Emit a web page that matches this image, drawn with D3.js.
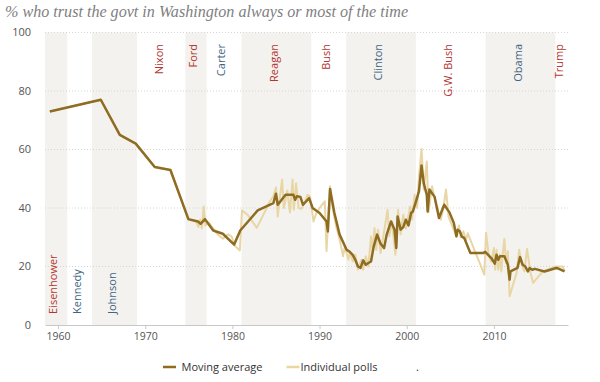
<!DOCTYPE html>
<html>
<head>
<meta charset="utf-8">
<script src="https://cdn.jsdelivr.net/npm/d3@7"></script>
<style>
  html, body { margin: 0; padding: 0; background: #fff; }
  svg { display: block; }
</style>
</head>
<body>
<svg id="chart" width="600" height="382"></svg>
<script>
// ---------- DATA ----------
const titleText = "% who trust the govt in Washington always or most of the time";

const presidents = [
  { name: "Eisenhower", start: 1953.05, end: 1961.05, party: "R" },
  { name: "Kennedy",    start: 1961.05, end: 1963.9,  party: "D" },
  { name: "Johnson",    start: 1963.9,  end: 1969.05, party: "D" },
  { name: "Nixon",      start: 1969.05, end: 1974.6,  party: "R" },
  { name: "Ford",       start: 1974.6,  end: 1977.05, party: "R" },
  { name: "Carter",     start: 1977.05, end: 1981.05, party: "D" },
  { name: "Reagan",     start: 1981.05, end: 1989.05, party: "R" },
  { name: "Bush",       start: 1989.05, end: 1993.05, party: "R" },
  { name: "Clinton",    start: 1993.05, end: 2001.05, party: "D" },
  { name: "G.W. Bush",  start: 2001.05, end: 2009.05, party: "R" },
  { name: "Obama",      start: 2009.05, end: 2017.05, party: "D" },
  { name: "Trump",      start: 2017.05, end: 2021.05, party: "R" }
];

const yTicks = [0, 20, 40, 60, 80, 100];
const xTicks = [1960, 1970, 1980, 1990, 2000, 2010];
const legendLabels = ["Moving average", "Individual polls"];

// Moving average: [year, percent]
const movingYears = [
  1959.05, 1964.9, 1967.08, 1968.91, 1971.09, 1972.89, 1974.95, 1976.05, 1976.35, 1976.85,
  1977.8, 1978.9, 1980.2, 1980.9, 1981.8, 1982.9, 1984.7, 1985.0, 1985.2, 1986.1,
  1987.0, 1987.2, 1987.4, 1987.8, 1988.1, 1988.8, 1989.2, 1990.0, 1990.8, 1990.95,
  1991.2, 1991.7, 1992.3, 1993.1, 1993.4, 1993.8, 1994.1, 1994.4, 1994.7, 1995.0,
  1995.3, 1995.6, 1995.9, 1996.2, 1996.6, 1997.0, 1997.4, 1997.7, 1998.2, 1998.6,
  1998.8, 1998.95, 1999.3, 1999.6, 1999.9, 2000.2, 2000.5, 2000.7, 2001.0, 2001.4,
  2001.7, 2001.95, 2002.3, 2002.4, 2002.6, 2003.2, 2003.7, 2004.3, 2004.9, 2005.4,
  2005.7, 2005.85, 2006.1, 2006.3, 2006.6, 2007.3, 2008.75, 2009.0, 2009.7, 2010.1,
  2010.3, 2010.5, 2010.7, 2011.2, 2011.6, 2011.8, 2011.9, 2012.3, 2012.7, 2013.0,
  2013.3, 2013.6, 2013.9, 2014.1, 2014.4, 2014.7, 2015.8, 2017.15, 2017.4, 2018.1
];
const movingValues = [
  73, 77, 65, 62, 54, 53, 36.2, 35.4, 34.6, 36.2,
  32.3, 31.2, 27.5, 32.3, 35.4, 39.2, 41.7, 44.9, 41.1, 44.5,
  44.5, 42.8, 44, 43.8, 41.1, 43.4, 40, 38.3, 35.4, 32,
  46.5, 38.3, 30.9, 25.7, 25.2, 24, 22.3, 20, 19.5, 22.1,
  20.6, 21.2, 21.7, 26.7, 30.9, 27.8, 26.3, 30.9, 35.4, 32.6,
  26.3, 37.1, 32.6, 33.5, 36, 34, 38.3, 38.8, 41.7, 45.7,
  54.5, 48.5, 44.5, 38.8, 46.3, 43.8, 36.6, 41.1, 38.5, 34.9,
  30.3, 32.6, 32, 30.3, 29.7, 24.6, 24.6, 25, 22.9, 21,
  24, 22.3, 23.5, 23.5, 20.6, 15.5, 18.3, 18.9, 19.5, 23.2,
  20.6, 20, 18.3, 19.5, 18.9, 19.2, 18.3, 19.5, 19.3, 18.3
];

// Individual polls: [year, percent]
const pollYears = [
  1959.05, 1964.9, 1967.08, 1968.91, 1971.09, 1972.89, 1974.95, 1975.8, 1976.1, 1976.3,
  1976.5, 1976.7, 1976.9, 1977.3, 1977.8, 1978.3, 1978.9, 1979.5, 1979.9, 1980.3,
  1980.85, 1981.1, 1981.8, 1982.8, 1983.6, 1984.3, 1984.7, 1985.0, 1985.2, 1985.5,
  1985.7, 1985.9, 1986.3, 1986.6, 1986.9, 1987.05, 1987.3, 1987.6, 1987.9, 1988.3,
  1988.6, 1988.9, 1989.3, 1989.6, 1990.0, 1990.6, 1990.8, 1991.2, 1991.5, 1991.9,
  1992.3, 1992.7, 1992.9, 1993.3, 1993.5, 1993.8, 1994.1, 1994.4, 1994.8, 1995.0,
  1995.3, 1995.6, 1995.9, 1996.1, 1996.3, 1996.5, 1996.7, 1997.0, 1997.5, 1997.8,
  1998.0, 1998.3, 1998.7, 1999.0, 1999.3, 1999.6, 1999.9, 2000.4, 2000.6, 2000.9,
  2001.2, 2001.4, 2001.7, 2001.95, 2002.3, 2002.5, 2002.9, 2003.3, 2003.9, 2004.2,
  2004.5, 2004.8, 2005.2, 2005.7, 2006.0, 2006.2, 2006.5, 2006.8, 2007.0, 2007.6,
  2008.9, 2009.1, 2009.4, 2009.7, 2010.0, 2010.15, 2010.3, 2010.5, 2010.65, 2010.85,
  2011.0, 2011.2, 2011.4, 2011.6, 2011.8, 2012.2, 2012.6, 2012.9, 2013.2, 2013.5,
  2013.8, 2014.2, 2014.5, 2015.6, 2017.1, 2017.9, 2018.1
];
const pollValues = [
  73, 77, 65, 62, 54, 53, 36, 35.5, 33.5, 36,
  33, 40.5, 34, 35, 33, 31, 29.5, 31, 30.3, 27,
  25.5, 39.2, 37.5, 33.2, 38, 42.3, 44, 47, 37.1, 45,
  49.7, 40, 46, 38.5, 49.7, 39.4, 48.5, 40, 39.7, 42,
  44.5, 44, 35.4, 38, 40, 42.3, 25.2, 47.4, 40, 33.7,
  29.2, 23.5, 26.9, 22.3, 25, 21.7, 24, 18.9, 22.3, 18.9,
  23.5, 20, 30.3, 25.2, 33.2, 25.7, 32.6, 24.6, 33.7, 39.4,
  30.3, 35.4, 24, 39.4, 31, 37.7, 33, 40.5, 36, 44.5,
  40, 50.8, 60.2, 46.3, 55.9, 38.5, 47.4, 42, 36, 40,
  46.3, 37, 34, 30.3, 34, 30, 32, 29, 31.4, 26.9,
  17.2, 31.5, 24, 21.7, 26.3, 18.9, 25.7, 18.9, 24, 18.3,
  24, 29.4, 21.2, 25.2, 9.8, 13.8, 17.8, 25.7, 20.6, 18.3,
  26, 17.8, 14.4, 18.3, 20, 20, 18.3
];

// ---------- CHART ----------
const svg = d3.select("#chart");
const font = "'Open Sans', 'Noto Sans', sans-serif";
const colors = {
  R: "#b5352f", D: "#3f6583", band: "#f3f2ee",
  moving: "#8e6c22", polls: "#e9d6a5", grid: "#d6d6d6",
  axis: "#c8c8c8", text: "#555", title: "#808080"
};

const x = d3.scaleLinear().domain([1958.5, 2018.5]).range([45, 568]);
const y = d3.scaleLinear().domain([0, 100]).range([325, 32.5]);
const [x0, x1] = x.domain();

// Title
const title = svg.append("text")
  .attr("x", 5).attr("y", 17)
  .attr("fill", colors.title)
  .style("font-family", "'Liberation Serif', 'DejaVu Serif', serif")
  .style("font-style", "italic")
  .style("font-size", "16px")
  .text(titleText);
const tl = title.node().getComputedTextLength();
title.style("font-size", (16 * 403 / tl).toFixed(2) + "px");

// Bands
const bands = presidents.map((p, i) => ({
  ...p, i,
  s: Math.max(p.start, x0), e: Math.min(p.end, x1)
}));
svg.append("g").selectAll("rect")
  .data(bands.filter(d => d.i % 2 === 0))
  .join("rect")
  .attr("x", d => x(d.s))
  .attr("width", d => x(d.e) - x(d.s))
  .attr("y", y(100))
  .attr("height", y(0) - y(100))
  .attr("fill", colors.band);

// Gridlines
svg.append("g").selectAll("line")
  .data(yTicks.filter(t => t > 0))
  .join("line")
  .attr("x1", x(x0)).attr("x2", x(x1))
  .attr("y1", d => y(d)).attr("y2", d => y(d))
  .attr("stroke", colors.grid)
  .attr("stroke-width", 1)
  .attr("stroke-dasharray", "1,2");

// Y labels
svg.append("g").selectAll("text")
  .data(yTicks)
  .join("text")
  .attr("x", 31)
  .attr("y", d => y(d))
  .attr("dy", "0.35em")
  .attr("text-anchor", "end")
  .attr("fill", colors.text)
  .style("font-family", font)
  .style("font-size", "11px")
  .text(d => d);

// X axis
const xAxis = svg.append("g")
  .attr("transform", `translate(0,${y(0)})`)
  .call(d3.axisBottom(x).tickValues(xTicks).tickFormat(d3.format("d")).tickSize(4).tickPadding(4).tickSizeOuter(0));
xAxis.select(".domain").attr("stroke", colors.axis);
xAxis.selectAll(".tick line").attr("stroke", colors.axis);
xAxis.selectAll(".tick text")
  .attr("fill", colors.text)
  .style("font-family", font)
  .style("font-size", "10.5px");

// President labels
svg.append("g").selectAll("text")
  .data(bands)
  .join("text")
  .attr("transform", d => {
    const cx = x((d.s + d.e) / 2) - 2.5;
    const yy = d.start < 1969 ? 314 : 44;
    return `translate(${cx},${yy}) rotate(-90)`;
  })
  .attr("dy", "0.35em")
  .attr("text-anchor", d => d.start < 1969 ? "start" : "end")
  .attr("fill", d => colors[d.party])
  .style("font-family", font)
  .style("font-size", "11px")
  .text(d => d.name);

// Lines
const line = d3.line().x(d => x(d[0])).y(d => y(d[1]));
const polls = pollYears.map((yr, i) => [yr, pollValues[i]]);
const moving = movingYears.map((yr, i) => [yr, movingValues[i]]);

svg.append("path")
  .datum(polls)
  .attr("d", line)
  .attr("fill", "none")
  .attr("stroke", colors.polls)
  .attr("stroke-width", 2)
  .attr("stroke-linejoin", "round");

svg.append("path")
  .datum(moving)
  .attr("d", line)
  .attr("fill", "none")
  .attr("stroke", colors.moving)
  .attr("stroke-width", 2.5)
  .attr("stroke-linejoin", "round");

// Legend
const legend = svg.append("g").attr("transform", "translate(0,367)");
const legendItems = [
  { label: legendLabels[0], color: colors.moving, lx: 163, tx: 181.5 },
  { label: legendLabels[1], color: colors.polls, lx: 286.5, tx: 300.5 }
];
legendItems.forEach(it => {
  legend.append("line")
    .attr("x1", it.lx).attr("x2", it.lx + 13)
    .attr("y1", 0).attr("y2", 0)
    .attr("stroke", it.color).attr("stroke-width", 2.5);
  legend.append("text")
    .attr("x", it.tx).attr("y", 0).attr("dy", "0.35em")
    .attr("fill", "#333")
    .style("font-family", font)
    .style("font-size", "11px")
    .text(it.label);
});
legend.append("text")
  .attr("x", 416).attr("y", 0).attr("dy", "0.35em")
  .attr("fill", "#333")
  .style("font-family", font)
  .style("font-size", "11px")
  .text(".");
</script>
</body>
</html>
